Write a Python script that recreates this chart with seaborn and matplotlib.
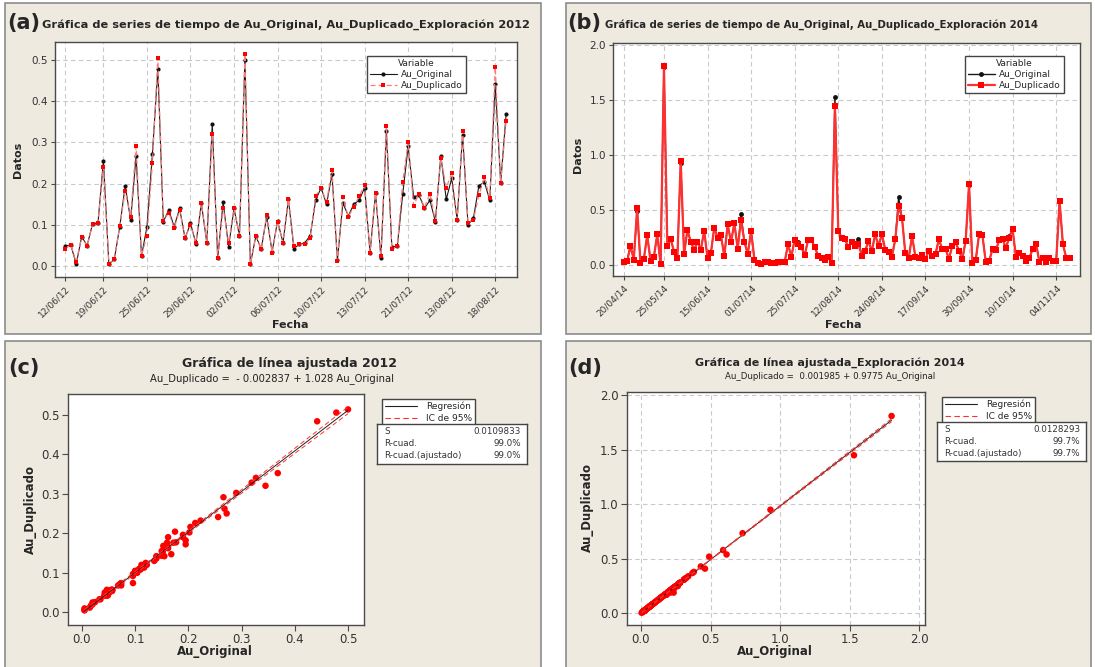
import numpy as np
import pandas as pd
import matplotlib
matplotlib.use("Agg")
import matplotlib.pyplot as plt
import seaborn as sns
from matplotlib.patches import Rectangle
from matplotlib.lines import Line2D

# ---- data ----
orig_2012 = [0.049, 0.052, 0.005, 0.072, 0.050, 0.103, 0.105, 0.256, 0.005, 0.017,
             0.096, 0.195, 0.112, 0.266, 0.025, 0.096, 0.272, 0.478, 0.108, 0.136,
             0.096, 0.140, 0.068, 0.104, 0.055, 0.152, 0.057, 0.345, 0.020, 0.155,
             0.047, 0.140, 0.074, 0.500, 0.005, 0.073, 0.042, 0.120, 0.035, 0.110,
             0.057, 0.162, 0.043, 0.053, 0.057, 0.074, 0.160, 0.190, 0.150, 0.223,
             0.015, 0.153, 0.122, 0.150, 0.160, 0.190, 0.033, 0.177, 0.020, 0.327,
             0.047, 0.048, 0.175, 0.290, 0.168, 0.172, 0.140, 0.160, 0.108, 0.268,
             0.162, 0.213, 0.113, 0.319, 0.100, 0.117, 0.195, 0.204, 0.160, 0.442,
             0.202, 0.368]
dup_2012 = [0.043, 0.052, 0.010, 0.072, 0.048, 0.103, 0.105, 0.241, 0.006, 0.017,
            0.097, 0.182, 0.120, 0.291, 0.026, 0.074, 0.250, 0.505, 0.110, 0.130,
            0.092, 0.136, 0.068, 0.100, 0.057, 0.153, 0.057, 0.320, 0.020, 0.142,
            0.057, 0.140, 0.074, 0.513, 0.005, 0.073, 0.042, 0.125, 0.033, 0.108,
            0.057, 0.162, 0.050, 0.053, 0.054, 0.068, 0.170, 0.190, 0.155, 0.232,
            0.012, 0.168, 0.120, 0.143, 0.170, 0.196, 0.033, 0.177, 0.025, 0.340,
            0.042, 0.048, 0.204, 0.302, 0.147, 0.176, 0.142, 0.176, 0.110, 0.262,
            0.190, 0.226, 0.113, 0.328, 0.105, 0.113, 0.172, 0.216, 0.165, 0.483,
            0.202, 0.352]
dates_2012 = ["12/06/12", "19/06/12", "25/06/12", "29/06/12", "02/07/12", "06/07/12",
              "10/07/12", "13/07/12", "21/07/12", "13/08/12", "18/08/12"]
ticks_2012 = [0, 7, 15, 23, 31, 39, 47, 55, 63, 71, 79]

orig_2014 = [0.025, 0.033, 0.185, 0.050, 0.490, 0.015, 0.055, 0.270, 0.040, 0.075,
             0.280, 0.005, 1.800, 0.170, 0.240, 0.120, 0.065, 0.930, 0.100, 0.320,
             0.210, 0.140, 0.210, 0.140, 0.310, 0.065, 0.110, 0.340, 0.250, 0.270,
             0.080, 0.370, 0.210, 0.380, 0.150, 0.460, 0.210, 0.100, 0.310, 0.045,
             0.015, 0.012, 0.030, 0.025, 0.020, 0.020, 0.025, 0.027, 0.025, 0.190,
             0.075, 0.240, 0.210, 0.160, 0.090, 0.230, 0.230, 0.160, 0.085, 0.065,
             0.050, 0.070, 0.020, 1.530, 0.310, 0.250, 0.235, 0.160, 0.205, 0.175,
             0.235, 0.085, 0.125, 0.220, 0.125, 0.280, 0.175, 0.280, 0.140, 0.120,
             0.075, 0.235, 0.615, 0.430, 0.105, 0.060, 0.265, 0.075, 0.065, 0.095,
             0.055, 0.130, 0.085, 0.100, 0.235, 0.145, 0.145, 0.055, 0.175, 0.205,
             0.130, 0.055, 0.220, 0.730, 0.015, 0.045, 0.280, 0.270, 0.025, 0.035,
             0.145, 0.135, 0.225, 0.235, 0.155, 0.265, 0.325, 0.070, 0.110, 0.085,
             0.040, 0.065, 0.145, 0.195, 0.025, 0.060, 0.025, 0.065, 0.035, 0.035,
             0.590, 0.190, 0.065, 0.065]
dup_2014 = [0.025, 0.033, 0.170, 0.050, 0.520, 0.015, 0.055, 0.270, 0.040, 0.075,
            0.280, 0.005, 1.810, 0.170, 0.240, 0.120, 0.065, 0.950, 0.100, 0.320,
            0.210, 0.140, 0.210, 0.140, 0.310, 0.065, 0.110, 0.340, 0.250, 0.270,
            0.080, 0.370, 0.210, 0.380, 0.150, 0.410, 0.210, 0.100, 0.310, 0.045,
            0.015, 0.012, 0.030, 0.025, 0.020, 0.020, 0.025, 0.027, 0.025, 0.190,
            0.075, 0.230, 0.190, 0.160, 0.090, 0.230, 0.230, 0.160, 0.085, 0.065,
            0.050, 0.070, 0.020, 1.450, 0.310, 0.250, 0.235, 0.160, 0.205, 0.175,
            0.190, 0.085, 0.125, 0.220, 0.125, 0.280, 0.175, 0.280, 0.140, 0.120,
            0.075, 0.235, 0.540, 0.430, 0.105, 0.060, 0.265, 0.075, 0.065, 0.095,
            0.055, 0.130, 0.085, 0.100, 0.235, 0.145, 0.145, 0.055, 0.175, 0.205,
            0.130, 0.055, 0.220, 0.735, 0.015, 0.045, 0.280, 0.270, 0.025, 0.035,
            0.145, 0.135, 0.225, 0.235, 0.155, 0.250, 0.325, 0.070, 0.110, 0.085,
            0.040, 0.065, 0.145, 0.195, 0.025, 0.060, 0.025, 0.065, 0.035, 0.035,
            0.580, 0.190, 0.065, 0.065]
dates_2014 = ["20/04/14", "25/05/14", "15/06/14", "01/07/14", "25/07/14", "12/08/14",
              "24/08/14", "17/09/14", "30/09/14", "10/10/14", "04/11/14"]
ticks_2014 = [0, 12, 25, 38, 51, 64, 77, 90, 103, 116, 129]

eq_2012 = "Au_Duplicado =  - 0.002837 + 1.028 Au_Original"
eq_2014 = "Au_Duplicado =  0.001985 + 0.9775 Au_Original"
stats_2012 = [("S", "0.0109833"), ("R-cuad.", "99.0%"), ("R-cuad.(ajustado)", "99.0%")]
stats_2014 = [("S", "0.0128293"), ("R-cuad.", "99.7%"), ("R-cuad.(ajustado)", "99.7%")]

# ---- figure setup ----
W, H = 1095, 667
BEIGE = "#EEEAE0"
SPINE = "#4a4a4a"

sns.set_style("ticks")
plt.rcParams['font.family'] = ['DejaVu Sans']

fig = plt.figure(figsize=(W / 100, H / 100), dpi=100)
fig.patch.set_facecolor("white")


def box(l, t, r, b):
    return [l / W, 1 - b / H, (r - l) / W, (b - t) / H]


def frame(l, t, r, b):
    fig.patches.append(Rectangle((l / W, 1 - b / H), (r - l) / W, (b - t) / H,
                                 transform=fig.transFigure, facecolor=BEIGE,
                                 edgecolor="#8c8c8c", lw=1.2, zorder=-10))


def ftext(x, y, s, **kw):
    fig.text(x / W, 1 - y / H, s, **kw)


def style_axes(ax):
    ax.set_zorder(2)
    ax.set_facecolor("white")
    for sp in ax.spines.values():
        sp.set_visible(True)
        sp.set_color(SPINE)
        sp.set_linewidth(1.0)
    ax.tick_params(length=3, width=0.8, color=SPINE, labelsize=7.5, labelcolor="#333333", pad=2)


def ts_panel(rect, orig, dup, tick_pos, tick_lab, ylim, yticks, xlim, big, legend_xy):
    ax = fig.add_axes(rect)
    style_axes(ax)
    df = pd.DataFrame({"idx": np.arange(len(orig)), "Au_Original": orig, "Au_Duplicado": dup})
    sns.lineplot(data=df, x="idx", y="Au_Original", ax=ax, color="#1a1a1a",
                 lw=0.8 if not big else 1.0, marker="o", ms=3 if not big else 3.5,
                 mfc="#111111", mec="#111111", mew=0, label="Au_Original", zorder=3)
    if big:
        sns.lineplot(data=df, x="idx", y="Au_Duplicado", ax=ax, color="#ff3030",
                     lw=1.6, marker="s", ms=4.2, mfc="#ff0000", mec="#ff0000", mew=0,
                     label="Au_Duplicado", zorder=4)
    else:
        sns.lineplot(data=df, x="idx", y="Au_Duplicado", ax=ax, color="#ff7a7a",
                     lw=0.9, ls=(0, (4, 2.5)), marker="s", ms=3.4, mfc="#ff0000",
                     mec="#ff0000", mew=0, label="Au_Duplicado", zorder=4)
    ax.set_xlim(*xlim)
    ax.set_ylim(*ylim)
    ax.set_xticks(tick_pos)
    ax.set_xticklabels(tick_lab, rotation=45, ha="right", rotation_mode="anchor", fontsize=6.5)
    ax.set_yticks(yticks)
    ax.set_yticklabels([f"{v:.1f}" for v in yticks])
    ax.grid(True, ls=(0, (4, 3)), color="#c9c9c9", lw=0.8)
    ax.set_axisbelow(True)
    ax.set_xlabel("")
    ax.set_ylabel("")
    leg = ax.legend(title="Variable", loc="upper left", bbox_to_anchor=legend_xy,
                    bbox_transform=fig.transFigure, fontsize=6.5, title_fontsize=6.5,
                    frameon=True, fancybox=False, edgecolor="#444444", framealpha=1,
                    handlelength=3.0, borderpad=0.35, labelspacing=0.25, handletextpad=0.5)
    leg.get_frame().set_linewidth(1.0)
    return ax


def fit_panel(rect, x, y, ticks, lims, grid, tcrit, legend_xy, stats_rect, stats):
    ax = fig.add_axes(rect)
    style_axes(ax)
    ax.tick_params(labelsize=8.5, length=4)
    x = np.asarray(x)
    y = np.asarray(y)
    sns.scatterplot(x=x, y=y, ax=ax, color="#ff0000", s=22, edgecolor="none", zorder=4)
    b1, b0 = np.polyfit(x, y, 1)
    n = len(x)
    resid = y - (b0 + b1 * x)
    s = np.sqrt(np.sum(resid ** 2) / (n - 2))
    sxx = np.sum((x - x.mean()) ** 2)
    xs = np.linspace(x.min(), x.max(), 100)
    fit = b0 + b1 * xs
    half = tcrit * s * np.sqrt(1 / n + (xs - x.mean()) ** 2 / sxx)
    ax.plot(xs, fit, color="#222222", lw=0.7, zorder=5)
    ax.plot(xs, fit - half, color="#ff3030", lw=0.7, ls=(0, (5, 3)), zorder=5)
    ax.plot(xs, fit + half, color="#ff3030", lw=0.7, ls=(0, (5, 3)), zorder=5)
    ax.set_xlim(*lims[0])
    ax.set_ylim(*lims[1])
    ax.set_xticks(ticks)
    ax.set_yticks(ticks)
    ax.set_xticklabels([f"{v:.1f}" for v in ticks])
    ax.set_yticklabels([f"{v:.1f}" for v in ticks])
    if grid:
        ax.grid(True, ls=(0, (4, 3)), color="#c9c9c9", lw=0.8)
        ax.set_axisbelow(True)
    handles = [Line2D([], [], color="#222222", lw=0.8),
               Line2D([], [], color="#ff3030", lw=0.8, ls=(0, (5, 3)))]
    leg = ax.legend(handles, ["Regresión", "IC de 95%"], loc="upper left",
                    bbox_to_anchor=legend_xy, bbox_transform=fig.transFigure,
                    fontsize=6.5, frameon=True, fancybox=False, edgecolor="#444444",
                    framealpha=1, handlelength=3.6, borderpad=0.35, labelspacing=0.3,
                    handletextpad=1.0)
    leg.get_frame().set_linewidth(1.0)
    sax = fig.add_axes(stats_rect)
    sax.set_zorder(2)
    sax.set_xticks([])
    sax.set_yticks([])
    sax.set_facecolor("white")
    for sp in sax.spines.values():
        sp.set_color("#444444")
        sp.set_linewidth(1.0)
    for i, (k, v) in enumerate(stats):
        yy = 0.80 - i * 0.30
        sax.text(0.05, yy, k, fontsize=6.3, va="center", ha="left", color="#333333")
        sax.text(0.96, yy, v, fontsize=6.3, va="center", ha="right", color="#333333")
    return ax


# ---- panel frames ----
frame(5, 3, 541, 334)
frame(566, 3, 1091, 334)
frame(5, 341, 541, 670)
frame(566, 341, 1091, 670)

# (a)
ts_panel(box(55, 42, 517, 277), orig_2012, dup_2012, ticks_2012, dates_2012,
         (-0.026, 0.543), [0.0, 0.1, 0.2, 0.3, 0.4, 0.5], (-1.9, 83.0), False,
         (362 / W, 1 - 51 / H))
ftext(7, 23, "(a)", fontsize=15, fontweight="bold", va="center", ha="left")
ftext(42, 25, "Gráfica de series de tiempo de Au_Original, Au_Duplicado_Exploración 2012",
      fontsize=8.2, fontweight="bold", va="center", ha="left")
ftext(18, 160, "Datos", fontsize=8, fontweight="bold", rotation=90, va="center", ha="center")
ftext(290, 325, "Fecha", fontsize=8, fontweight="bold", va="center", ha="center")

# (b)
ts_panel(box(613, 43, 1080, 276), orig_2014, dup_2014, ticks_2014, dates_2014,
         (-0.1, 2.02), [0.0, 0.5, 1.0, 1.5, 2.0], (-3.2, 136.1), True,
         (960 / W, 1 - 51 / H))
ftext(567, 23, "(b)", fontsize=15, fontweight="bold", va="center", ha="left")
ftext(605, 25, "Gráfica de series de tiempo de Au_Original, Au_Duplicado_Exploración 2014",
      fontsize=7.3, fontweight="bold", va="center", ha="left")
ftext(578, 155, "Datos", fontsize=8, fontweight="bold", rotation=90, va="center", ha="center")
ftext(843, 325, "Fecha", fontsize=8, fontweight="bold", va="center", ha="center")

# (c)
fit_panel(box(68, 394, 364, 625), orig_2012, dup_2012, [0.0, 0.1, 0.2, 0.3, 0.4, 0.5],
          ((-0.026, 0.53), (-0.032, 0.552)), False, 1.99,
          (377 / W, 1 - 394 / H), box(377, 424, 527, 464), stats_2012)
ftext(8, 368, "(c)", fontsize=15, fontweight="bold", va="center", ha="left")
ftext(289, 364, "Gráfica de línea ajustada 2012", fontsize=9, fontweight="bold",
      va="center", ha="center")
ftext(272, 379, eq_2012, fontsize=7.2, va="center", ha="center", color="#222222")
ftext(215, 652, "Au_Original", fontsize=8.5, fontweight="bold", va="center", ha="center")
ftext(30, 510, "Au_Duplicado", fontsize=8.5, fontweight="bold", rotation=90,
      va="center", ha="center")

# (d)
fit_panel(box(627, 392, 925, 625), orig_2014, dup_2014, [0.0, 0.5, 1.0, 1.5, 2.0],
          ((-0.1, 2.04), (-0.107, 2.03)), True, 1.98,
          (937 / W, 1 - 392 / H), box(937, 422, 1086, 461), stats_2014)
ftext(568, 368, "(d)", fontsize=15, fontweight="bold", va="center", ha="left")
ftext(830, 363, "Gráfica de línea ajustada_Exploración 2014", fontsize=8, fontweight="bold",
      va="center", ha="center")
ftext(830, 377, eq_2014, fontsize=6.2, va="center", ha="center", color="#222222")
ftext(775, 652, "Au_Original", fontsize=8.5, fontweight="bold", va="center", ha="center")
ftext(587, 508, "Au_Duplicado", fontsize=8.5, fontweight="bold", rotation=90,
      va="center", ha="center")

fig.savefig("out.png", dpi=100, facecolor="white")
